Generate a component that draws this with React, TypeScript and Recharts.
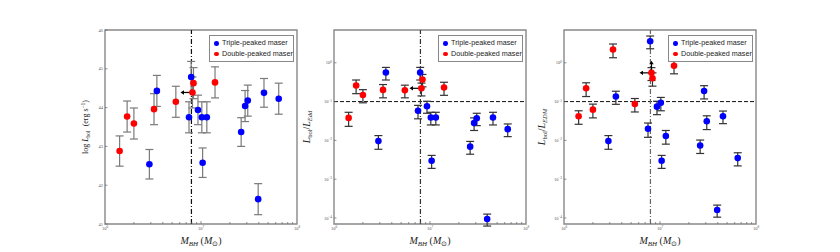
import { ScatterChart, Scatter, XAxis, YAxis, ErrorBar, ReferenceLine, ReferenceArea, Legend } from 'recharts';

// black hole masses (M_sun), shared by the three panels
const tripleMass = [2.9e6, 3.47e6, 7.5e6, 7.9e6, 9.3e6, 1.02e7, 1.15e7, 1.04e7, 2.62e7, 2.88e7, 3.07e7, 4.53e7, 3.94e7, 6.45e7];
const doubleMass = [1.42e6, 1.7e6, 2.0e6, 3.24e6, 5.47e6, 8.15e6, 8.35e6, 1.4e7];
const doubleMassLimit = [false, false, false, false, false, true, false, false];

// log L_bol (erg/s)
const tripleLbol = [42.54, 44.43, 43.75, 44.79, 43.94, 43.75, 43.75, 42.58, 43.37, 44.04, 44.18, 44.38, 41.64, 44.23];
const tripleLbolErr = [0.38, 0.4, 0.4, 0.4, 0.38, 0.4, 0.4, 0.38, 0.37, 0.4, 0.4, 0.37, 0.4, 0.4];
const doubleLbol = [42.88, 43.77, 43.59, 43.96, 44.15, 44.39, 44.63, 44.65];
const doubleLbolErr = [0.39, 0.4, 0.4, 0.4, 0.4, 0.4, 0.4, 0.4];

// L_bol / L_Edd
const tripleEdd = [0.0096, 0.56, 0.058, 0.56, 0.076, 0.039, 0.039, 0.003, 0.0069, 0.028, 0.037, 0.039, 9.4e-5, 0.0195];
const tripleEddErr = [0.0037, 0.2, 0.022, 0.2, 0.026, 0.014, 0.014, 0.0011, 0.0025, 0.01, 0.013, 0.014, 3.2e-5, 0.007];
const doubleEdd = [0.038, 0.26, 0.148, 0.2, 0.195, 0.22, 0.37, 0.23];
const doubleEddErr = [0.015, 0.1, 0.055, 0.075, 0.07, 0.08, 0.13, 0.085];

// L_bol / L_EDM
const tripleEdm = [0.0096, 0.135, 0.02, 3.6, 0.074, 0.093, 0.013, 0.003, 0.0074, 0.187, 0.031, 0.042, 1.6e-4, 0.0035];
const tripleEdmErr = [0.0037, 0.05, 0.008, 1.3, 0.028, 0.035, 0.005, 0.0011, 0.0028, 0.07, 0.012, 0.015, 5.5e-5, 0.0013];
const doubleEdm = [0.042, 0.22, 0.062, 2.2, 0.087, 0.55, 0.4, 0.84];
const doubleEdmErr = [0.016, 0.085, 0.024, 0.85, 0.033, 0.2, 0.15, 0.32];
const doubleEdmUpLimit = [false, false, false, false, false, true, false, false];

const massTicks = [1e6, 2e6, 3e6, 4e6, 5e6, 6e6, 7e6, 8e6, 9e6, 1e7, 2e7, 3e7, 4e7, 5e7, 6e7, 7e7, 8e7, 9e7, 1e8];
const lbolTicks = [41, 42, 43, 44, 45, 46];
const ratioTicks = [1e-4, 1e-3, 1e-2, 1e-1, 1];
const seriesNames = ['Triple-peaked maser', 'Double-peaked maser'];

const BLUE = '#0000ff';
const RED = '#ff0000';
const EDD_LIMIT_MASS = 7.95e6;

const PW = 192;
const LEFT_PAD = 40;

const isMajor = (v: number) => Math.abs(Math.log10(v) - Math.round(Math.log10(v))) < 1e-6;

const XTick = (props: any) => {
  const { x, y, payload } = props;
  const v = payload.value;
  const major = isMajor(v);
  const inner = v > 1e6 && v < 1e8;
  return (
    <g>
      {inner && <line x1={x} x2={x} y1={y} y2={y - (major ? 3 : 2)} stroke="#666" strokeWidth={0.7} />}
      {major && (
        <text x={x} y={y + 5.5} fontSize={4.5} fill="#555" textAnchor="middle" fontFamily="Liberation Serif">
          10<tspan dy={-1.6} fontSize={3.4}>{Math.round(Math.log10(v))}</tspan>
        </text>
      )}
    </g>
  );
};

const YTick = (props: any) => {
  const { x, y, payload, log } = props;
  const v = payload.value;
  const e = Math.round(Math.log10(v));
  return (
    <g>
      <line x1={x} x2={x + 2.5} y1={y} y2={y} stroke="#666" strokeWidth={0.7} />
      <text x={x - 2} y={y + 1.6} fontSize={4.5} fill="#555" textAnchor="end" fontFamily="Liberation Serif">
        {log ? (
          <>
            10<tspan dy={-1.6} fontSize={3.4}>{e === 0 ? '0' : `\u2212${-e}`}</tspan>
          </>
        ) : (
          String(v)
        )}
      </text>
    </g>
  );
};

const XLabel = (props: any) => {
  const { viewBox } = props;
  const cx = viewBox.x + viewBox.width / 2;
  const y = viewBox.y + 20;
  return (
    <text x={cx} y={y} textAnchor="middle" fontSize={10} fontFamily="Liberation Serif" fill="#222">
      <tspan fontStyle="italic">M</tspan>
      <tspan fontStyle="italic" fontSize={7} dy={2}>BH</tspan>
      <tspan dy={-2}> (</tspan>
      <tspan fontStyle="italic">M</tspan>
      <tspan fontSize={7} dy={2}>{'\u2299'}</tspan>
      <tspan dy={-2}>)</tspan>
    </text>
  );
};

const makeYLabel = (kind: string, dx: number) => (props: any) => {
  const { viewBox } = props;
  const cx = viewBox.x + dx;
  const cy = viewBox.y + viewBox.height / 2;
  if (kind === 'lbol') {
    return (
      <text transform={`rotate(-90 ${cx} ${cy})`} x={cx} y={cy} textAnchor="middle" fontSize={8} fontFamily="Liberation Serif" fill="#222">
        log<tspan dx={2} fontStyle="italic">L</tspan>
        <tspan fontSize={5.5} dy={2}>bol</tspan>
        <tspan dy={-2} dx={4}>(erg s</tspan>
        <tspan fontSize={5.5} dy={-3}>{'\u22121'}</tspan>
        <tspan dy={3}>)</tspan>
      </text>
    );
  }
  return (
    <text transform={`rotate(-90 ${cx} ${cy})`} x={cx} y={cy} textAnchor="middle" fontSize={10} fontFamily="Liberation Serif" fill="#222">
      <tspan fontStyle="italic">L</tspan>
      <tspan fontSize={6.5} dy={2}>bol</tspan>
      <tspan dy={-2}>/</tspan>
      <tspan fontStyle="italic">L</tspan>
      <tspan fontStyle="italic" fontSize={6.5} dy={2}>{kind}</tspan>
    </text>
  );
};

const makeDot = (color: string) => (props: any) => {
  const { cx, cy, payload } = props;
  return (
    <g>
      {payload.left && (
        <g>
          <line x1={cx - 2} x2={cx - 9} y1={cy} y2={cy} stroke="#000" strokeWidth={1.2} />
          <polygon points={`${cx - 12},${cy} ${cx - 8.5},${cy - 2.2} ${cx - 8.5},${cy + 2.2}`} fill="#000" />
        </g>
      )}
      {payload.up && (
        <g>
          <line x1={cx} x2={cx} y1={cy - 2} y2={cy - 9} stroke="#000" strokeWidth={1.2} />
          <polygon points={`${cx},${cy - 12} ${cx - 2.2},${cy - 8.5} ${cx + 2.2},${cy - 8.5}`} fill="#000" />
        </g>
      )}
      <circle cx={cx} cy={cy} r={3.3} fill={color} />
    </g>
  );
};

const LegendBox = () => (
  <div
    style={{
      border: '1px solid #888',
      background: '#fff',
      padding: '2px 0 2px 4px',
      fontFamily: 'Liberation Sans',
      fontSize: 7.2,
      lineHeight: '10.6px',
      color: '#222',
      boxSizing: 'border-box',
      width: 85,
      height: 27,
    }}
  >
    {seriesNames.map((n, i) => (
      <div key={n} style={{ display: 'flex', alignItems: 'center', whiteSpace: 'nowrap' }}>
        <span style={{ display: 'inline-block', width: 4.6, height: 4.6, borderRadius: '50%', background: i === 0 ? BLUE : RED, marginRight: 3.5 }} />
        {n}
      </div>
    ))}
  </div>
);

interface PanelProps {
  left: number;
  log: boolean;
  tripleVals: number[];
  tripleErr: number[];
  doubleVals: number[];
  doubleErr: number[];
  upLimit?: boolean[];
  yKind: string;
  yLabelDx: number;
  errColor: string;
  vColor: string;
}

function Panel({ left, log, tripleVals, tripleErr, doubleVals, doubleErr, upLimit, yKind, yLabelDx, errColor, vColor }: PanelProps) {
  const triple = tripleMass.map((m, i) => ({ m, v: tripleVals[i], e: tripleErr[i] }));
  const double = doubleMass.map((m, i) => ({ m, v: doubleVals[i], e: doubleErr[i], left: doubleMassLimit[i], up: upLimit ? upLimit[i] : false }));
  const yDomain = log ? [7e-5, 7] : [41, 46];
  return (
    <div style={{ position: 'absolute', left: left - LEFT_PAD, top: 0 }}>
      <ScatterChart width={LEFT_PAD + PW + 8} height={252} margin={{ top: 30, right: 8, bottom: 0, left: 0 }}>
        <XAxis
          type="number"
          dataKey="m"
          scale="log"
          domain={[1e6, 1e8]}
          ticks={massTicks}
          interval={0}
          allowDataOverflow
          axisLine={false}
          tickLine={false}
          tickSize={0}
          tickMargin={0}
          height={28}
          tick={<XTick />}
          label={<XLabel />}
        />
        <YAxis
          type="number"
          dataKey="v"
          scale={log ? 'log' : 'linear'}
          domain={yDomain}
          ticks={log ? ratioTicks : lbolTicks}
          interval={0}
          allowDataOverflow
          axisLine={false}
          tickLine={false}
          tickSize={0}
          tickMargin={0}
          width={LEFT_PAD}
          tick={<YTick log={log} />}
          label={makeYLabel(yKind, yLabelDx)}
        />
        <ReferenceArea x1={1e6} x2={1e8} y1={yDomain[0]} y2={yDomain[1]} fill="none" fillOpacity={0} stroke="#888" strokeWidth={1.4} />
        {log && <ReferenceLine y={0.1} stroke="#111" strokeWidth={1} strokeDasharray="4 2" />}
        <ReferenceLine x={EDD_LIMIT_MASS} stroke={vColor} strokeWidth={1.2} strokeDasharray="5 2 1 2" />
        <Legend layout="vertical" align="center" verticalAlign="middle" content={<LegendBox />} wrapperStyle={{ left: 144, top: 35, width: 85 }} />
        <Scatter name={seriesNames[0]} data={triple} fill={BLUE} shape={makeDot(BLUE)} isAnimationActive={false}>
          <ErrorBar dataKey="e" direction="y" width={4} stroke={errColor} strokeWidth={1.2} />
        </Scatter>
        <Scatter name={seriesNames[1]} data={double} fill={RED} shape={makeDot(RED)} isAnimationActive={false}>
          <ErrorBar dataKey="e" direction="y" width={4} stroke={errColor} strokeWidth={1.2} />
        </Scatter>
      </ScatterChart>
    </div>
  );
}

export default function App() {
  return (
    <div style={{ position: 'absolute', left: 0, top: 0, width: 840, height: 252, background: '#fff', overflow: 'hidden' }}>
      <Panel left={105} log={false} tripleVals={tripleLbol} tripleErr={tripleLbolErr} doubleVals={doubleLbol} doubleErr={doubleLbolErr} yKind="lbol" yLabelDx={23} errColor="#7a7a7a" vColor="#111" />
      <Panel left={334} log tripleVals={tripleEdd} tripleErr={tripleEddErr} doubleVals={doubleEdd} doubleErr={doubleEddErr} yKind="Edd" yLabelDx={16} errColor="#333" vColor="#333" />
      <Panel left={564} log tripleVals={tripleEdm} tripleErr={tripleEdmErr} doubleVals={doubleEdm} doubleErr={doubleEdmErr} upLimit={doubleEdmUpLimit} yKind="EDM" yLabelDx={21} errColor="#333" vColor="#666" />
    </div>
  );
}
